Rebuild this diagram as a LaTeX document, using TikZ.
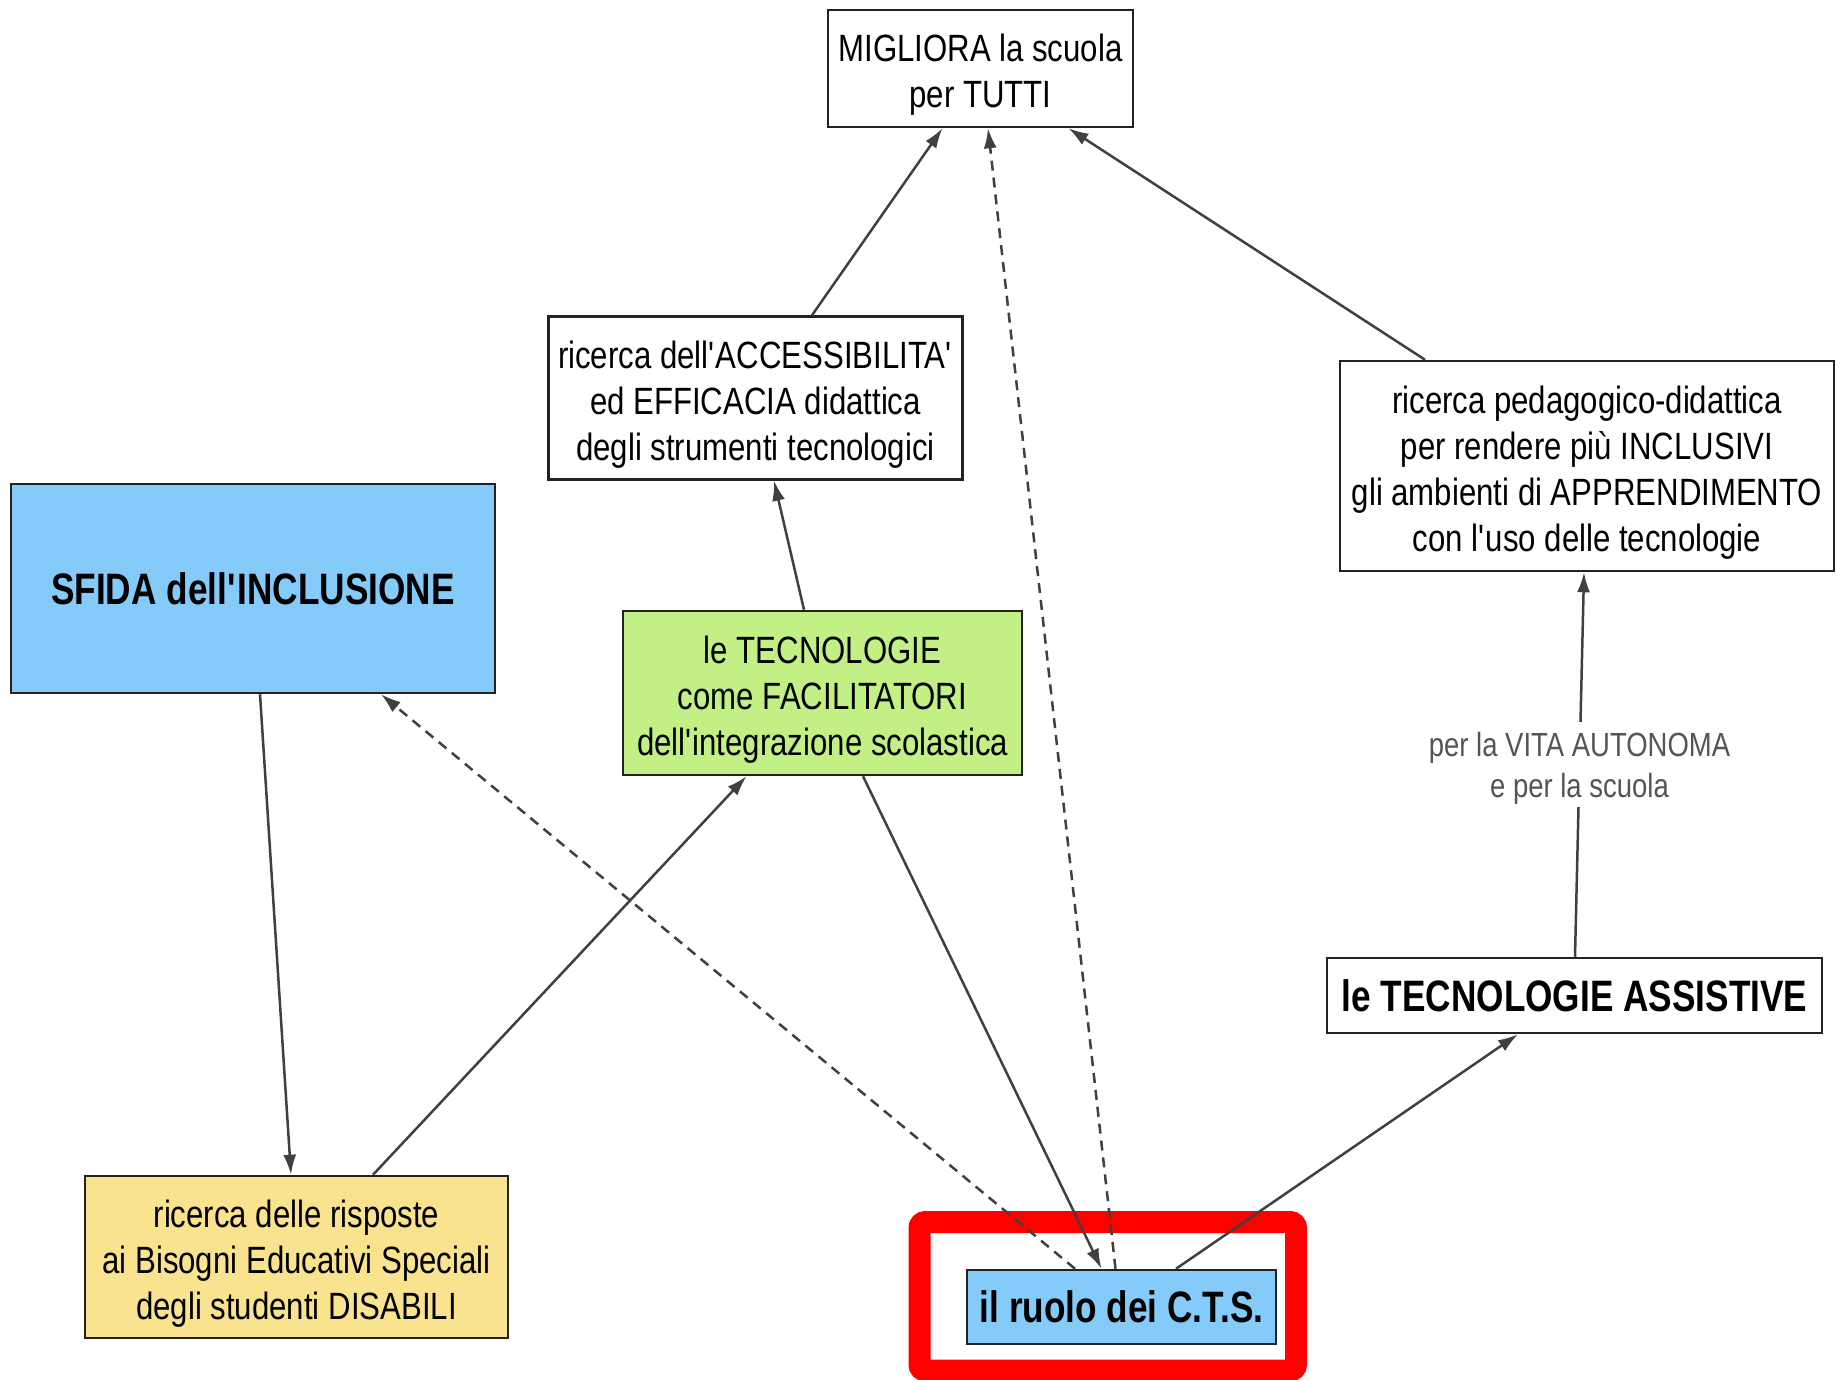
\documentclass[tikz,border=0pt]{standalone}
\usepackage{fontspec}
\setmainfont[FakeStretch=0.82, BoldFeatures={FakeStretch=0.8}]{Liberation Sans}
\usetikzlibrary{arrows.meta}
\definecolor{boxblue}{HTML}{84CBFA}
\definecolor{boxgreen}{HTML}{C2F084}
\definecolor{boxyellow}{HTML}{FAE38E}
\definecolor{linegray}{HTML}{404040}
\definecolor{bordergray}{HTML}{222222}
\definecolor{labelgray}{HTML}{555555}
\definecolor{hired}{HTML}{FF0000}
\newcommand{\apos}{\textquotesingle}
\newcommand{\topstrut}{\rule{0pt}{40pt}}
\newcommand{\lblstrut}{\rule{0pt}{31pt}}
\tikzset{
  box/.style={draw=bordergray, line width=2.5pt, rectangle, inner sep=0pt, align=center,
    font=\fontsize{38}{46}\selectfont},
  boldbox/.style={box, font=\fontsize{44}{52}\selectfont\bfseries},
  arr/.style={draw=linegray, line width=2.5pt, -{Latex[length=20pt,width=13pt]}},
  dasharr/.style={arr, dash pattern=on 10pt off 7pt},
  lbl/.style={fill=white, inner sep=3pt, align=center, text=labelgray,
    font=\fontsize{33.5}{41}\selectfont}
}
\begin{document}
\begin{tikzpicture}[x=1pt,y=-1pt]
\useasboundingbox[fill=white] (0,0) rectangle (1837,1380);

% highlight frame
\draw[hired, line width=22pt, rounded corners=6pt] (919.5,1222) rectangle (1296,1370.5);

% nodes
\node[box, fill=white, minimum width=305pt, minimum height=117pt] (top) at (980.5,68.5)
  {\topstrut MIGLIORA la scuola\\per TUTTI};
\node[box, fill=white, minimum width=414pt, minimum height=163pt] (acc) at (755.5,398)
  {\topstrut ricerca dell\apos ACCESSIBILITA\apos\\ed EFFICACIA didattica\\degli strumenti tecnologici};
\node[box, fill=white, minimum width=494pt, minimum height=210pt] (ped) at (1587,466)
  {\topstrut ricerca pedagogico-didattica\\per rendere più INCLUSIVI\\gli ambienti di APPRENDIMENTO\\con l\apos uso delle tecnologie};
\node[boldbox, fill=boxblue, minimum width=484pt, minimum height=209pt] (sfida) at (253,588.5)
  {SFIDA dell\apos INCLUSIONE};
\node[box, fill=boxgreen, minimum width=399pt, minimum height=164pt] (green) at (822.5,693)
  {\topstrut le TECNOLOGIE\\come FACILITATORI\\dell\apos integrazione scolastica};
\node[boldbox, fill=white, minimum width=495pt, minimum height=75pt] (assist) at (1574.5,995.5)
  {le TECNOLOGIE ASSISTIVE};
\node[box, fill=boxyellow, minimum width=423pt, minimum height=162pt] (yellow) at (296.5,1257)
  {\topstrut ricerca delle risposte\\ai Bisogni Educativi Speciali\\degli studenti DISABILI};
\node[boldbox, fill=boxblue, minimum width=309pt, minimum height=74pt] (cts) at (1121.5,1307)
  {il ruolo dei C.T.S.};

% connectors
\draw[arr] ([xshift=56.5pt]acc.north) -- ([xshift=-38pt]top.south);
\draw[dasharr] ([xshift=-6pt]cts.north) -- ([xshift=7.5pt]top.south);
\draw[arr] ([xshift=-162pt]ped.north) -- ([xshift=88pt]top.south);
\draw[arr] ([xshift=-18.5pt]green.north) -- ([xshift=18.5pt]acc.south);
\draw[arr] ([xshift=40.5pt]green.south) -- ([xshift=-20pt]cts.north);
\draw[dasharr] ([xshift=-46.5pt]cts.north) -- ([xshift=128pt]sfida.south);
\draw[arr] ([xshift=7pt]sfida.south) -- ([xshift=-5.5pt]yellow.north);
\draw[arr] ([xshift=76.5pt]yellow.north) -- ([xshift=-76pt]green.south);
\draw[arr] ([xshift=54.5pt]cts.north) -- ([xshift=-56.5pt]assist.south);
\draw[arr] ([xshift=0.5pt]assist.north) -- node[lbl]{\lblstrut per la VITA AUTONOMA\\e per la scuola} ([xshift=-3pt]ped.south);
\end{tikzpicture}
\end{document}
